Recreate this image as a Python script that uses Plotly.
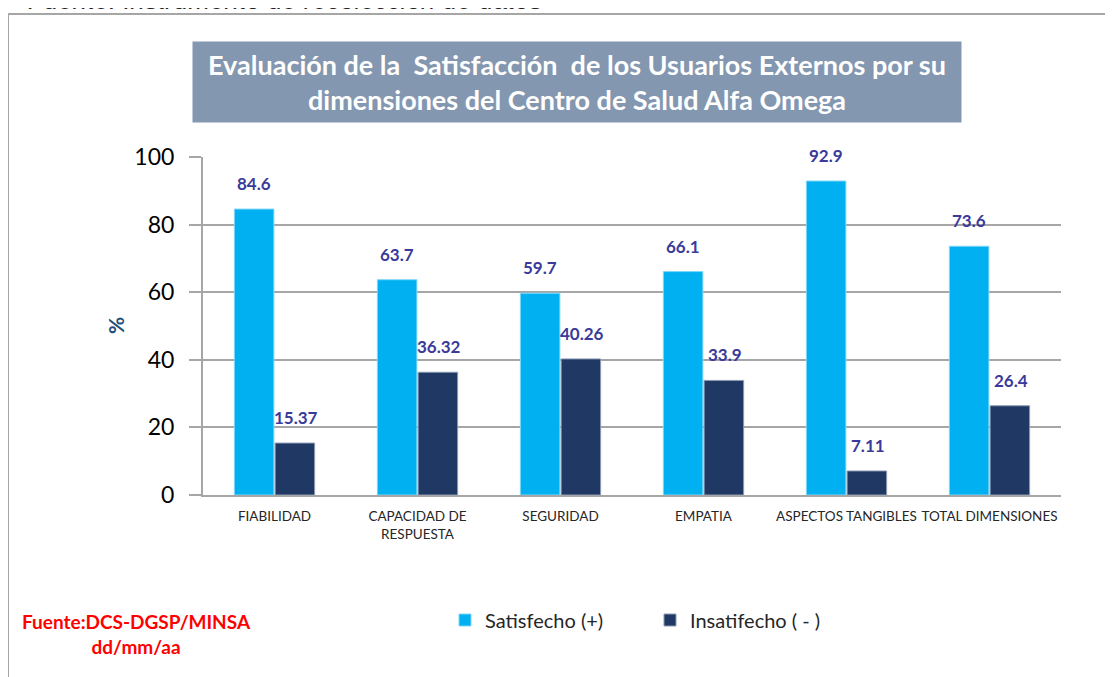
import plotly.graph_objects as go

categories = ["FIABILIDAD", "CAPACIDAD DE<br>RESPUESTA", "SEGURIDAD", "EMPATIA",
              "ASPECTOS TANGIBLES", "TOTAL DIMENSIONES"]
satisfecho = [84.6, 63.7, 59.7, 66.1, 92.9, 73.6]
insatisfecho = [15.37, 36.32, 40.26, 33.9, 7.11, 26.4]
sat_labels = ["84.6", "63.7", "59.7", "66.1", "92.9", "73.6"]
ins_labels = ["15.37", "36.32", "40.26", "33.9", "7.11", "26.4"]
y_ticks = [0, 20, 40, 60, 80, 100]

FONT = "Lato"
OFF = 8  # page body margin
W, H = 1113, 677
L = 203 - OFF
T = 157 - OFF
R = W - (1061 - OFF)
B = H - (495 - OFF)
PW, PH = W - L - R, H - T - B


def px_x(sx):
    return (sx - OFF - L) / PW


def px_y(sy):
    return (H - B - (sy - OFF)) / PH


fig = go.Figure()
fig.add_trace(go.Bar(x=categories, y=satisfecho, name="Satisfecho (+)",
                     marker=dict(color="#00B0F0", line=dict(color="#7FD7F7", width=1))))
fig.add_trace(go.Bar(x=categories, y=insatisfecho, name="Insatifecho ( - )",
                     marker=dict(color="#203864", line=dict(color="#8C9BB5", width=1))))

ann = []
for c, v, t in zip(categories, satisfecho, sat_labels):
    ann.append(dict(x=c, y=v, text="<b>%s</b>" % t, showarrow=False, xshift=-21, yshift=13,
                    yanchor="bottom", font=dict(family=FONT, size=17, color="#3A3A9A")))
for c, v, t in zip(categories, insatisfecho, ins_labels):
    ann.append(dict(x=c, y=v, text="<b>%s</b>" % t, showarrow=False, xshift=21, yshift=13,
                    yanchor="bottom", font=dict(family=FONT, size=17, color="#3A3A9A")))

# Title box
ann.append(dict(xref="paper", yref="paper", x=px_x(577), y=px_y(82), xanchor="center", yanchor="middle",
                text="<b>Evaluación de la  Satisfacción  de los Usuarios Externos por su<br>dimensiones del Centro de Salud Alfa Omega</b>",
                showarrow=False, width=764, height=76, bgcolor="#8497B0", borderpad=2,
                font=dict(family=FONT, size=27, color="white"), align="center"))
# cropped top source line (partly above the page, as in the original)
ann.append(dict(xref="paper", yref="paper", x=px_x(26), y=px_y(0), xanchor="left", yanchor="middle",
                text="<i>Fuente: Instrumento de recolección de datos</i>", showarrow=False,
                font=dict(family="Liberation Sans", size=26, color="#222222")))
# red source
ann.append(dict(xref="paper", yref="paper", x=px_x(136), y=px_y(634), xanchor="center", yanchor="middle",
                text="<b>Fuente:DCS-DGSP/MINSA<br>dd/mm/aa</b>", showarrow=False, align="center",
                font=dict(family=FONT, size=19, color="#FF0000")))
# y axis title
ann.append(dict(xref="paper", yref="paper", x=px_x(115), y=px_y(326), xanchor="center", yanchor="middle",
                text="<b>%</b>", textangle=-90, showarrow=False,
                font=dict(family=FONT, size=21, color="#1F4E79")))

shapes = [
    dict(type="line", xref="paper", yref="paper", x0=px_x(8), x1=px_x(1130), y0=px_y(14), y1=px_y(14),
         line=dict(color="#A6A6A6", width=2)),
    dict(type="line", xref="paper", yref="paper", x0=px_x(8), x1=px_x(8), y0=px_y(14), y1=px_y(700),
         line=dict(color="#A6A6A6", width=2)),
]

fig.update_layout(
    width=W, height=H, margin=dict(l=L, r=R, t=T, b=B, autoexpand=False),
    paper_bgcolor="white", plot_bgcolor="white",
    barmode="group", bargap=0.43, bargroupgap=0.03,
    annotations=ann, shapes=shapes,
    showlegend=True,
    legend=dict(orientation="h", x=px_x(445), y=px_y(620), xanchor="left", yanchor="middle",
                font=dict(family=FONT, size=20, color="#262626"), itemwidth=30,
                entrywidth=160, entrywidthmode="pixels", bgcolor="rgba(0,0,0,0)"),
    font=dict(family=FONT),
)
fig.update_xaxes(showgrid=False, showline=True, linecolor="#A6A6A6", linewidth=2,
                 tickfont=dict(family=FONT, size=13.5, color="#262626"), ticks="",
                 ticklabelstandoff=8, fixedrange=True)
fig.update_yaxes(range=[0, 100], tickvals=y_ticks, showgrid=True, gridcolor="#A6A6A6", gridwidth=1.5,
                 showline=True, linecolor="#A6A6A6", linewidth=2, ticks="outside", ticklen=12,
                 tickcolor="#A6A6A6", tickwidth=1.5, zeroline=False, ticklabelstandoff=10,
                 tickfont=dict(family=FONT, size=23, color="#000000"))

fig.write_html("out.html")
